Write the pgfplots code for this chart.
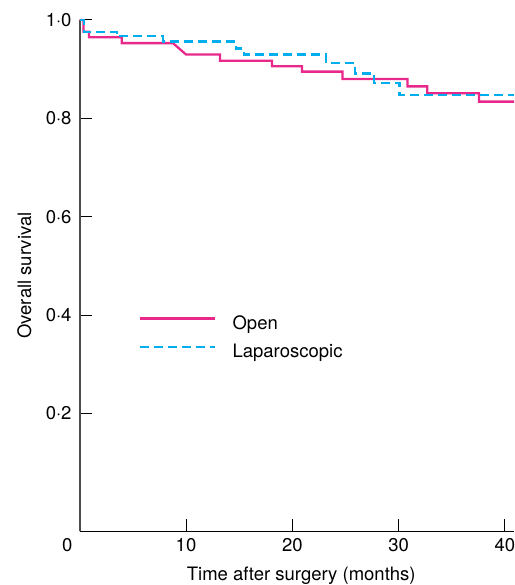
\documentclass[border=0pt]{standalone}
\usepackage{fontspec}
\setmainfont{TeX Gyre Heros}
\usepackage{pgfplots}
\pgfplotsset{compat=1.18}
\definecolor{openpink}{HTML}{E8288A}
\definecolor{lapblue}{HTML}{00AEEF}
\newcommand{\chartfont}{\fontsize{18.5}{22}\selectfont}
\begin{document}
\begin{tikzpicture}
\begin{axis}[
    name=ax,
    scale only axis,
    width=434.3pt, height=511pt,
    xmin=0, xmax=40.85,
    ymin=-0.039, ymax=1.0,
    clip=false,
    axis x line=bottom,
    axis y line=left,
    x axis line style={-, black, line width=1pt},
    y axis line style={-, black!70, line width=2pt},
    tick align=inside,
    major tick length=12pt,
    tick style={black, line width=1pt},
    xtick={0,10,20,30,40},
    xticklabels={\makebox[0pt][r]{0\hspace{7.2pt}},10,20,30,40},
    ytick={0.2,0.4,0.6,0.8,1.0},
    yticklabels={0·2,0·4,0·6,0·8,1·0},
    tick label style={font=\chartfont, inner sep=0pt},
    xticklabel style={anchor=north},
    xticklabel shift=7pt,
    yticklabel style={anchor=east},
    yticklabel shift=8pt,
    xlabel={Time after surgery (months)},
    ylabel={Overall survival},
    label style={font=\chartfont, inner sep=0pt},
    xlabel style={at={(axis description cs:0.51,-0.0978)}, anchor=base},
    ylabel style={at={(axis description cs:-0.1105,0.5)}, anchor=south},
    legend cell align=left,
    legend image code/.code={\draw[#1] (0pt,6.5pt) -- (75pt,6.5pt);},
    legend style={at={(axis cs:5.605,0.397)}, anchor=north west, draw=none, fill=none,
        inner sep=0pt, outer sep=0pt, font=\chartfont, row sep=11.2pt, column sep=16pt,
        nodes={inner sep=0pt, text height=13pt, text depth=4pt}},
]
\addplot[openpink, line width=2.3pt, line join=miter] coordinates {
    (0,1.0) (0.35,1.0) (0.35,0.976) (0.87,0.976) (0.87,0.965) (3.95,0.965)
    (3.95,0.953) (8.77,0.953) (9.99,0.930) (13.19,0.930) (13.19,0.917)
    (18.08,0.917) (18.08,0.906) (20.90,0.906) (20.90,0.895) (24.72,0.895)
    (24.72,0.880) (30.83,0.880) (30.83,0.865) (32.69,0.865) (32.69,0.851)
    (37.55,0.851) (37.55,0.834) (40.85,0.834)
};
\addlegendentry{Open}
\addplot[lapblue, line width=2.3pt, dash pattern=on 9pt off 5pt] coordinates {
    (0,1.0) (0.4,1.0) (0.4,0.976) (3.48,0.976) (3.48,0.967) (7.86,0.967)
    (7.86,0.956) (14.70,0.956) (14.70,0.942) (15.45,0.942) (15.45,0.930)
    (23.16,0.930) (23.16,0.913) (25.89,0.913) (25.89,0.891) (27.70,0.891)
    (27.70,0.872) (30.08,0.872) (30.08,0.847) (40.85,0.847)
};
\addlegendentry{Laparoscopic}
\end{axis}
\pgfresetboundingbox
\path[use as bounding box] ([shift={(-79.7pt,-54pt)}]ax.south west) rectangle ++(514pt,585pt);
\end{tikzpicture}
\end{document}
